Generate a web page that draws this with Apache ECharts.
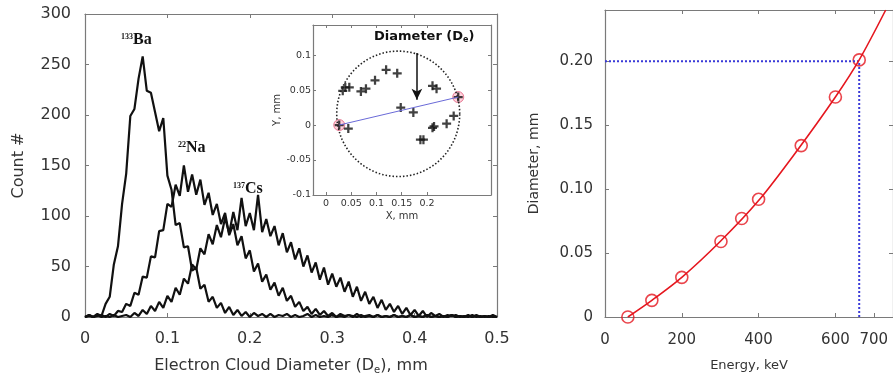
<!DOCTYPE html>
<html><head><meta charset="utf-8">
<script src="https://cdn.jsdelivr.net/npm/echarts@6/dist/echarts.min.js"></script>
<style>html,body{margin:0;padding:0;background:#fff}#c{width:893px;height:380px}</style>
</head><body><div id="c"></div>
<script>
// ---------- Left panel: electron cloud diameter spectra (bin width 0.005 mm, from 0 to 0.5) ----------
const binStep = 0.005;
const ba133 = [0,2,0,3,1,13,20,52,70,112,
  142,199,206,236,258,224,222,203,184,197,
  140,126,91,93,69,70,46,49,28,32,
  15,20,9,14,4,10,2,7,1,5,
  0,4,1,3,0,3,0,2,1,3,
  0,2,0,1,3,0,2,0,1,0,
  2,0,1,0,2,1,0,2,0,1,
  0,2,0,1,0,2,0,1,0,2,
  0,1,0,2,0,1,0,1,0,2,
  0,1,0,1,0,2,0,1,0,1,0];
const na22 = [0,2,0,1,2,0,3,1,6,5,
  13,11,24,22,40,39,60,59,85,86,
  112,109,131,120,150,124,141,121,136,111,
  123,101,112,92,103,81,92,71,80,58,
  66,45,53,35,42,27,34,21,29,16,
  21,10,15,6,10,3,8,2,6,1,
  4,0,3,1,2,0,3,0,1,2,
  0,2,0,1,0,2,0,1,0,2,
  0,1,0,2,0,1,0,1,0,2,
  0,1,0,2,0,1,0,1,0,2,0];
const cs137 = [0,1,0,2,0,1,0,2,0,1,
  2,0,4,1,7,3,11,6,15,9,
  21,15,29,22,38,33,52,47,68,62,
  82,72,91,79,98,83,104,86,118,90,
  103,86,121,84,97,80,90,71,83,64,
  74,57,68,50,61,44,54,37,49,32,
  43,30,39,25,35,20,30,16,25,13,
  20,9,17,7,13,5,11,3,9,2,
  7,1,6,0,4,1,3,0,2,1,
  2,0,1,0,2,0,1,0,1,0,0];

// ---------- Inset: electron positions ----------
const hitX = [0.026,0.044,0.033,0.038,0.046,0.069,0.079,0.097,0.119,0.141,0.148,0.173,0.187,0.193,0.211,0.219,0.214,0.211,0.239,0.253,0.262];
const hitY = [0.000,-0.005,0.049,0.054,0.054,0.048,0.052,0.064,0.079,0.074,0.025,0.018,-0.021,-0.021,0.056,0.052,-0.002,-0.004,0.002,0.013,0.040];
const endX = [0.026, 0.262];
const endY = [0.000, 0.040];
const circleCenter = [0.143, 0.016];
const circleRadii = [0.122, 0.0897];
const arrowX = [0.180, 0.180];
const arrowY = [0.103, 0.036];
const insetXTicks = [0, 0.05, 0.1, 0.15, 0.2];
const insetYTicks = [-0.1, -0.05, 0, 0.05, 0.1];

// ---------- Right panel: diameter vs energy ----------
const energy = [59.5, 122, 200, 302, 356, 400, 511, 600, 662];
const diameter = [0.000, 0.013, 0.031, 0.059, 0.077, 0.092, 0.134, 0.172, 0.201];
const fitEnergy = [59.5, 122, 200, 300, 400, 500, 600, 662, 731];
const fitDiameter = [0.000, 0.013, 0.031, 0.059, 0.091, 0.130, 0.172, 0.201, 0.240];
const markEnergy = 662, markDiameter = 0.2;
const energyTicks = [0, 200, 400, 600, 700];
const diamTicks = [0, 0.05, 0.1, 0.15, 0.2];

// ---------- build ----------
const toPairs = arr => arr.map((v, i) => [+(i * binStep).toFixed(3), v]);
const zip = (a, b) => a.map((v, i) => [v, b[i]]);
const circlePts = [];
for (let k = 0; k <= 90; k++) {
  const t = k / 90 * 2 * Math.PI;
  circlePts.push([circleCenter[0] + circleRadii[0] * Math.cos(t), circleCenter[1] + circleRadii[1] * Math.sin(t)]);
}

const F = 'DejaVu Sans';
const axisCol = '#7a7a7a';
const lblCol = '#333';
function ax(extra) {
  return Object.assign({
    type: 'value',
    axisLine: { show: true, onZero: false, lineStyle: { color: axisCol, width: 1.2 } },
    axisTick: { show: true, inside: true, length: 4, lineStyle: { color: axisCol } },
    splitLine: { show: false },
    axisLabel: { show: false }
  }, extra);
}
const plus = 'path://M3,0H5V3H8V5H5V8H3V5H0V3H3Z';
const serif = 'Liberation Serif';
function peakRich() {
  return {
    s: { fontSize: 8, fontWeight: 'bold', fontFamily: serif, fill: '#111', padding: [0, 0, 7, 0] },
    b: { fontSize: 16, fontWeight: 'bold', fontFamily: serif, fill: '#111' }
  };
}

const option = {
  animation: false,
  backgroundColor: '#fff',
  grid: [
    { left: 85, top: 14, width: 412, height: 303 },
    { left: 313, top: 25, width: 178, height: 170, show: true, backgroundColor: '#fff', borderWidth: 0 },
    { left: 605, top: 10, width: 294, height: 307 }
  ],
  xAxis: [
    ax({ gridIndex: 0, min: 0, max: 0.5, interval: 0.1,
      axisLabel: { show: true, margin: 14, fontSize: 16, fontFamily: F, color: lblCol },
      name: 'Electron Cloud Diameter (D{s|e}), mm', nameLocation: 'middle', nameGap: 40,
      nameTextStyle: { fontSize: 16, fontFamily: F, color: lblCol, rich: { s: { fontSize: 10, fontFamily: F, color: lblCol, verticalAlign: 'bottom', padding: [8, 0, 0, 0] } } } }),
    ax({ gridIndex: 0, position: 'top', min: 0, max: 0.5, interval: 0.1 }),
    ax({ gridIndex: 1, min: -0.026, max: 0.327,
      axisTick: { show: true, inside: true, length: 3, lineStyle: { color: axisCol }, customValues: insetXTicks },
      axisLabel: { show: true, margin: 4, fontSize: 9.5, fontFamily: F, color: lblCol, customValues: insetXTicks },
      name: 'X, mm', nameLocation: 'middle', nameGap: 16, nameTextStyle: { fontSize: 10, fontFamily: F, color: lblCol } }),
    ax({ gridIndex: 1, position: 'top', min: -0.026, max: 0.327,
      axisTick: { show: true, inside: true, length: 3, lineStyle: { color: axisCol }, customValues: insetXTicks } }),
    ax({ gridIndex: 2, min: 0, max: 750,
      axisTick: { show: true, inside: true, length: 4, lineStyle: { color: axisCol }, customValues: energyTicks },
      axisLabel: { show: true, margin: 16, fontSize: 15, fontFamily: F, color: lblCol, customValues: energyTicks },
      name: 'Energy, keV', nameLocation: 'middle', nameGap: 42, nameTextStyle: { fontSize: 13, fontFamily: F, color: lblCol } }),
    ax({ gridIndex: 2, position: 'top', min: 0, max: 750,
      axisTick: { show: true, inside: true, length: 4, lineStyle: { color: axisCol }, customValues: energyTicks } })
  ],
  yAxis: [
    ax({ gridIndex: 0, min: 0, max: 300, interval: 50,
      axisLabel: { show: true, margin: 14, fontSize: 16, fontFamily: F, color: lblCol },
      name: 'Count #', nameLocation: 'middle', nameGap: 58, nameTextStyle: { fontSize: 16, fontFamily: F, color: lblCol } }),
    ax({ gridIndex: 0, position: 'right', min: 0, max: 300, interval: 50 }),
    ax({ gridIndex: 1, min: -0.1, max: 0.143,
      axisTick: { show: true, inside: true, length: 3, lineStyle: { color: axisCol }, customValues: insetYTicks },
      axisLabel: { show: true, margin: 2, fontSize: 9.5, fontFamily: F, color: lblCol, customValues: insetYTicks },
      name: 'Y, mm', nameLocation: 'middle', nameGap: 28, nameTextStyle: { fontSize: 10, fontFamily: F, color: lblCol } }),
    ax({ gridIndex: 1, position: 'right', min: -0.1, max: 0.143,
      axisTick: { show: true, inside: true, length: 3, lineStyle: { color: axisCol }, customValues: insetYTicks } }),
    ax({ gridIndex: 2, min: 0, max: 0.24,
      axisTick: { show: true, inside: true, length: 4, lineStyle: { color: axisCol }, customValues: diamTicks },
      axisLabel: { show: true, margin: 12, fontSize: 15, fontFamily: F, color: lblCol, customValues: diamTicks,
        formatter: v => v === 0 ? '0' : v.toFixed(2) },
      name: 'Diameter, mm', nameLocation: 'middle', nameGap: 64, nameTextStyle: { fontSize: 14, fontFamily: F, color: lblCol } }),
    ax({ gridIndex: 2, position: 'right', min: 0, max: 0.24 })
  ],
  series: [
    { type: 'line', xAxisIndex: 0, yAxisIndex: 0, data: toPairs(cs137), symbol: 'none', lineStyle: { color: '#111', width: 2.2 } },
    { type: 'line', xAxisIndex: 0, yAxisIndex: 0, data: toPairs(na22), symbol: 'none', lineStyle: { color: '#111', width: 2.2 } },
    { type: 'line', xAxisIndex: 0, yAxisIndex: 0, data: toPairs(ba133), symbol: 'none', lineStyle: { color: '#111', width: 2.2 } },
    // inset
    { type: 'line', xAxisIndex: 2, yAxisIndex: 2, data: circlePts, symbol: 'none', smooth: false,
      lineStyle: { color: '#222', width: 1.6, type: [1.5, 2] } },
    { type: 'line', xAxisIndex: 2, yAxisIndex: 2, data: zip(endX, endY), symbol: 'none', lineStyle: { color: '#6a6ad8', width: 1 },
      markLine: { silent: true, symbol: ['none', 'arrow'], symbolSize: [8, 11], label: { show: false },
        lineStyle: { color: '#111', width: 1.5, type: 'solid' },
        data: [[{ coord: [arrowX[0], arrowY[0]] }, { coord: [arrowX[1], arrowY[1]] }]] } },
    { type: 'scatter', xAxisIndex: 2, yAxisIndex: 2, data: zip(endX, endY), symbol: 'circle', symbolSize: 11,
      itemStyle: { color: 'rgba(255,150,175,0.55)', borderColor: '#e0607e', borderWidth: 1 } },
    { type: 'scatter', xAxisIndex: 2, yAxisIndex: 2, data: zip(hitX, hitY), symbol: plus, symbolSize: 9, itemStyle: { color: '#111' } },
    // right panel
    { type: 'line', xAxisIndex: 4, yAxisIndex: 4, data: [[0, markDiameter], [markEnergy, markDiameter], [markEnergy, 0]], symbol: 'none',
      lineStyle: { color: '#3a3ad8', width: 2, type: [2, 2] } },
    { type: 'line', xAxisIndex: 4, yAxisIndex: 4, data: zip(fitEnergy, fitDiameter), symbol: 'none', smooth: 0.3,
      lineStyle: { color: '#e5171f', width: 1.6 } },
    { type: 'scatter', xAxisIndex: 4, yAxisIndex: 4, data: zip(energy, diameter), symbol: 'circle', symbolSize: 12,
      itemStyle: { color: 'rgba(0,0,0,0)', borderColor: '#e5171f', borderWidth: 1.6 } }
  ],
  graphic: [
    { type: 'text', left: 374, top: 30, z: 100, style: { text: 'Diameter (D{s|e})', fontSize: 13, fontWeight: 'bold', fontFamily: F, fill: '#111',
      rich: { s: { fontSize: 8, fontWeight: 'bold', fontFamily: F, fill: '#111', padding: [6, 0, 0, 0] } } } },
    { type: 'text', left: 121, top: 32, z: 100, style: { text: '{s|133}{b|Ba}', rich: peakRich() } },
    { type: 'text', left: 178, top: 140, z: 100, style: { text: '{s|22}{b|Na}', rich: peakRich() } },
    { type: 'text', left: 233, top: 181, z: 100, style: { text: '{s|137}{b|Cs}', rich: peakRich() } }
  ]
};
const chart = echarts.init(document.getElementById('c'), null, { renderer: 'canvas' });
chart.setOption(option);
</script>
</body></html>
